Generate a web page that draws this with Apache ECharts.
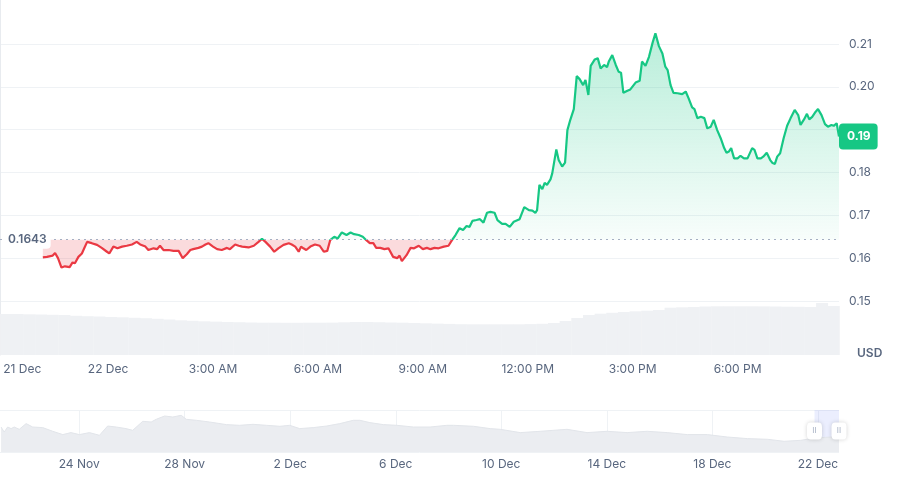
<!DOCTYPE html>
<html><head><meta charset="utf-8">
<script src="https://cdn.jsdelivr.net/npm/echarts@6/dist/echarts.min.js"></script>
<style>html,body{margin:0;padding:0;background:#fff}#chart{width:900px;height:500px}</style>
</head><body><div id="chart"></div>
<script>
// Minutes relative to 22 Dec 00:00
const priceMinutes = [-112,-105,-95,-91,-86,-80,-74,-66,-61,-57,-51,-45,-41,-36,-28,-19,-11,-2,2,9,16,24,32,41,49,55,64,69,78,84,89,95,104,112,121,128,135,141,146,155,161,167,172,180,187,195,204,209,218,224,230,241,250,258,264,270,278,285,292,301,310,315,321,327,331,335,340,347,355,363,370,376,381,388,394,401,409,416,422,430,437,443,449,455,460,467,474,481,489,496,500,504,512,519,525,533,540,547,553,560,567,576,584,590,596,603,609,615,620,625,632,638,644,650,656,663,668,676,682,689,696,706,714,722,728,733,736,740,745,749,753,759,762,769,773,779,784,788,793,799,804,809,815,819,824,828,835,840,845,851,856,859,865,871,876,880,884,891,896,905,912,916,922,928,934,939,945,951,956,960,965,970,977,985,991,996,1002,1006,1011,1017,1023,1028,1034,1039,1045,1051,1057,1061,1065,1069,1074,1080,1085,1091,1097,1105,1109,1114,1120,1124,1130,1136,1140,1144,1148,1153,1159,1165,1171,1178,1184,1188,1194,1199,1203,1208,1214,1218,1224,1230,1235,1241,1245,1250,1254];
const prices = [0.1602,0.1603,0.1606,0.1612,0.1600,0.1578,0.1581,0.1579,0.1590,0.1588,0.1603,0.1611,0.1623,0.1638,0.1635,0.1631,0.1624,0.1615,0.1611,0.1627,0.1623,0.1627,0.1629,0.1632,0.1638,0.1632,0.1627,0.1619,0.1623,0.1621,0.1629,0.1619,0.1619,0.1617,0.1617,0.1600,0.1609,0.1619,0.1621,0.1624,0.1627,0.1632,0.1635,0.1627,0.1621,0.1619,0.1624,0.1621,0.1632,0.1629,0.1627,0.1625,0.1629,0.1638,0.1645,0.1638,0.1627,0.1615,0.1623,0.1631,0.1635,0.1632,0.1627,0.1615,0.1627,0.1623,0.1619,0.1627,0.1632,0.1629,0.1615,0.1617,0.1642,0.1650,0.1646,0.1660,0.1654,0.1660,0.1656,0.1654,0.1650,0.1642,0.1635,0.1635,0.1624,0.1624,0.1621,0.1623,0.1603,0.1600,0.1606,0.1593,0.1607,0.1624,0.1623,0.1629,0.1621,0.1624,0.1621,0.1624,0.1623,0.1627,0.1629,0.1642,0.1654,0.1670,0.1666,0.1675,0.1673,0.1687,0.1689,0.1691,0.1683,0.1706,0.1708,0.1706,0.1689,0.1680,0.1680,0.1673,0.1685,0.1691,0.1719,0.1712,0.1711,0.1706,0.1712,0.1771,0.1761,0.1776,0.1771,0.1784,0.1798,0.1854,0.1829,0.1814,0.1823,0.1899,0.1923,0.1948,0.2025,0.2018,0.2004,0.2016,0.1981,0.2049,0.2064,0.2067,0.2043,0.2051,0.2046,0.2059,0.2074,0.2051,0.2035,0.2033,0.1986,0.1991,0.1994,0.2010,0.2014,0.2059,0.2049,0.2070,0.2102,0.2125,0.2095,0.2078,0.2047,0.2039,0.2004,0.1986,0.1985,0.1983,0.1989,0.1973,0.1952,0.1948,0.1927,0.1930,0.1927,0.1903,0.1907,0.1923,0.1899,0.1880,0.1857,0.1846,0.1849,0.1857,0.1833,0.1833,0.1839,0.1833,0.1833,0.1857,0.1853,0.1833,0.1833,0.1837,0.1846,0.1829,0.1822,0.1820,0.1837,0.1845,0.1880,0.1909,0.1927,0.1946,0.1934,0.1911,0.1924,0.1937,0.1924,0.1930,0.1942,0.1948,0.1934,0.1913,0.1907,0.1911,0.1909,0.1915,0.1884];
const baselinePrice = 0.1643;

// Volume (M USD), 20-minute bins
const volumeMinutes = [-175,-155,-135,-115,-95,-75,-55,-35,-15,5,25,45,65,85,105,125,145,165,185,205,225,245,265,285,305,325,345,365,385,405,425,445,465,485,505,525,545,565,585,605,625,645,665,685,705,725,745,765,785,805,825,845,865,885,905,925,945,965,985,1005,1025,1045,1065,1085,1105,1125,1145,1165,1185,1205,1225,1245];
const volumes = [41,41,40.7,40.5,40.2,40,39.2,38.8,38.5,38,37.7,37.2,36.8,36.2,35.5,34.7,34.2,33.7,33.4,33,32.8,32.5,32.3,32.3,32.2,32.2,32.3,32.3,32.4,32.7,33,33,32.8,32.5,32.3,32,31.7,31.4,31.1,30.8,30.7,30.7,30.7,30.7,30.7,30.9,31.2,32,34,37,40,41.3,42.2,43,43.7,44.3,45,47.3,47.7,48,48.5,48.7,48.7,48.7,48.7,48.6,48.5,48.3,48.2,48,52,49];

// Main x-axis ticks
const xTickMinutes = [-180,0,180,360,540,720,900,1080];
const xTickLabels = ['21 Dec','22 Dec','3:00 AM','6:00 AM','9:00 AM','12:00 PM','3:00 PM','6:00 PM'];

// Navigator: days relative to 22 Dec 00:00
const navDays = [-30.96,-30.84,-30.71,-30.58,-30.46,-30.27,-30.01,-29.76,-29.38,-29.00,-28.62,-28.31,-27.99,-27.61,-27.23,-26.92,-26.60,-26.22,-25.97,-25.59,-25.27,-25.08,-24.76,-24.45,-24.13,-23.94,-23.56,-23.06,-22.42,-21.92,-21.41,-20.90,-20.39,-20.02,-19.64,-19.13,-18.62,-18.12,-17.61,-17.36,-16.98,-16.47,-15.96,-15.33,-14.70,-14.06,-13.81,-13.05,-12.42,-12.04,-11.28,-10.52,-9.51,-8.75,-7.99,-7.23,-6.47,-5.71,-4.95,-4.19,-3.43,-2.67,-1.91,-1.28,-0.65,-0.14,0.30,0.80];
const navPrices = [0.2190,0.1952,0.2190,0.2114,0.2190,0.2081,0.2352,0.2190,0.2162,0.1986,0.1829,0.1924,0.1829,0.1924,0.1795,0.2238,0.2190,0.2114,0.2033,0.2462,0.2429,0.2557,0.2714,0.2667,0.2748,0.2557,0.2510,0.2429,0.2305,0.2271,0.2319,0.2271,0.2224,0.2271,0.2114,0.2162,0.2238,0.2352,0.2510,0.2510,0.2400,0.2305,0.2271,0.2190,0.2190,0.2271,0.2271,0.2224,0.2114,0.2081,0.1924,0.1986,0.2081,0.1924,0.1986,0.1924,0.1986,0.1924,0.1829,0.1829,0.1714,0.1638,0.1605,0.1510,0.1557,0.1667,0.1700,0.1730];
const navTickDays = [-28,-24,-20,-16,-12,-8,-4,0];
const navTickLabels = ['24 Nov','28 Nov','2 Dec','6 Dec','10 Dec','14 Dec','18 Dec','22 Dec'];

const GREEN = '#16c784', RED = '#ea3943', TXT = '#58667e', GRIDC = '#eff2f5';
const FONT = 'Inter, "Noto Sans", sans-serif';
const xMin = -185.5, xMax = 1254;
const winStart = xMin / 1440, winEnd = 0.8;

const lineData = priceMinutes.map((m, i) => [m, prices[i]]);
const upData = priceMinutes.map((m, i) => [m, Math.max(prices[i], baselinePrice)]);
const downData = priceMinutes.map((m, i) => [m, Math.min(prices[i], baselinePrice)]);
const lastPrice = prices[prices.length - 1];

const chart = echarts.init(document.getElementById('chart'), null, {renderer: 'canvas'});
chart.setOption({
  animation: false,
  textStyle: {fontFamily: FONT},
  title: {text: 'USD', left: 852, top: 342, textStyle: {fontSize: 12, fontWeight: 600, color: TXT, fontFamily: FONT}},
  grid: [
    {left: 0, right: 61, top: 44, bottom: 199},
    {left: 0, right: 61, top: 290, bottom: 145},
    {left: 0, right: 61, top: 410, bottom: 48},
    {left: 0, right: 61, top: 0, bottom: 145}
  ],
  xAxis: [
    {gridIndex: 0, type: 'value', min: xMin, max: xMax, show: false},
    {gridIndex: 1, type: 'value', min: xMin, max: xMax,
      axisLine: {show: false}, axisTick: {show: false, customValues: xTickMinutes}, splitLine: {show: false},
      axisLabel: {customValues: xTickMinutes, margin: 8, color: TXT, fontSize: 12, fontFamily: FONT,
        formatter: v => { const i = xTickMinutes.indexOf(v); if (i === 0) return '{first|' + xTickLabels[0] + '}'; return i >= 0 ? xTickLabels[i] : ''; },
        rich: {first: {color: TXT, fontSize: 12, fontFamily: FONT, padding: [0, 0, 0, 38]}}}},
    {gridIndex: 2, type: 'value', min: -31, max: 0.8,
      axisLine: {show: false}, axisTick: {show: false, customValues: navTickDays},
      splitLine: {show: true, lineStyle: {color: GRIDC}},
      axisLabel: {customValues: navTickDays, margin: 6, color: TXT, fontSize: 12, fontFamily: FONT,
        formatter: v => { const i = navTickDays.indexOf(v); return i >= 0 ? navTickLabels[i] : ''; }}},
    {gridIndex: 3, type: 'value', min: 0, max: 1, show: false}
  ],
  yAxis: [
    {gridIndex: 0, type: 'value', position: 'right', min: 0.15, max: 0.21, interval: 0.01,
      axisLine: {show: false}, axisTick: {show: false},
      splitLine: {lineStyle: {color: GRIDC}},
      axisLabel: {margin: 10, color: TXT, fontSize: 12, fontFamily: FONT, formatter: v => v.toFixed(2)}},
    {gridIndex: 1, type: 'value', min: 0, max: 65, show: false},
    {gridIndex: 2, type: 'value', min: 0.10, max: 0.30, interval: 0.2,
      axisLine: {show: false}, axisTick: {show: false}, axisLabel: {show: false},
      splitLine: {show: true, lineStyle: {color: GRIDC}}},
    {gridIndex: 3, type: 'value', position: 'right', min: 0, max: 1,
      axisLine: {show: true, lineStyle: {color: '#e8ebef'}}, axisTick: {show: false},
      axisLabel: {show: false}, splitLine: {show: false}}
  ],
  visualMap: {show: false, type: 'piecewise', seriesIndex: 0, dimension: 1,
    pieces: [{gte: 0, lt: baselinePrice, color: RED}, {gte: baselinePrice, lte: 1, color: GREEN}]},
  series: [
    {type: 'line', xAxisIndex: 0, yAxisIndex: 0, data: lineData, showSymbol: false, clip: false, z: 5,
      lineStyle: {width: 2.2}, silent: true,
      markLine: {silent: true, symbol: 'none', animation: false, precision: 4, z: 10,
        data: [
          {yAxis: baselinePrice,
            lineStyle: {color: '#a6b0c3', type: [2, 4], width: 1},
            label: {show: true, position: 'insideStart', distance: 4, formatter: baselinePrice.toFixed(4),
              color: TXT, fontSize: 12, fontWeight: 600, fontFamily: FONT,
              backgroundColor: '#fff', padding: [3, 4], borderRadius: 4}},
          {yAxis: lastPrice,
            lineStyle: {color: 'rgba(0,0,0,0)', width: 1},
            label: {show: true, position: 'end', distance: 0, formatter: lastPrice.toFixed(2),
              color: '#fff', fontSize: 12, fontWeight: 700, fontFamily: FONT, lineHeight: 14,
              backgroundColor: GREEN, padding: [6, 7, 6, 8], borderRadius: 4}}
        ]}},
    {type: 'line', xAxisIndex: 0, yAxisIndex: 0, data: upData, showSymbol: false, clip: false, z: 2, silent: true,
      lineStyle: {width: 0, opacity: 0},
      areaStyle: {origin: baselinePrice, opacity: 1,
        color: new echarts.graphic.LinearGradient(0, 0, 0, 1, [
          {offset: 0, color: 'rgba(22,199,132,0.30)'}, {offset: 1, color: 'rgba(22,199,132,0.03)'}])}},
    {type: 'line', xAxisIndex: 0, yAxisIndex: 0, data: downData, showSymbol: false, clip: false, z: 2, silent: true,
      lineStyle: {width: 0, opacity: 0},
      areaStyle: {origin: baselinePrice, opacity: 1, color: 'rgba(234,57,67,0.18)'}},
    {type: 'bar', xAxisIndex: 1, yAxisIndex: 1, data: volumeMinutes.map((m, i) => [m, volumes[i]]),
      barWidth: 12, itemStyle: {color: '#eff1f4'}, silent: true},
    {type: 'line', xAxisIndex: 2, yAxisIndex: 2, data: navDays.map((d, i) => [d, navPrices[i]]),
      showSymbol: false, silent: true, lineStyle: {width: 1, color: '#e2e5ea'},
      areaStyle: {origin: 'start', color: '#ebedf1', opacity: 1},
      markArea: {silent: true, itemStyle: {color: 'rgba(88,118,246,0.12)'}, data: [[{xAxis: winStart}, {xAxis: winEnd}]]},
      markPoint: {silent: true, symbol: 'roundRect', symbolSize: [15, 17],
        itemStyle: {color: '#fff', shadowBlur: 4, shadowColor: 'rgba(0,0,0,0.18)'},
        label: {show: true, formatter: 'II', color: '#a6b0c3', fontSize: 8, fontFamily: FONT},
        data: [{coord: [winStart, 0.2]}, {coord: [winEnd, 0.2]}]}}
  ]
});
</script></body></html>
